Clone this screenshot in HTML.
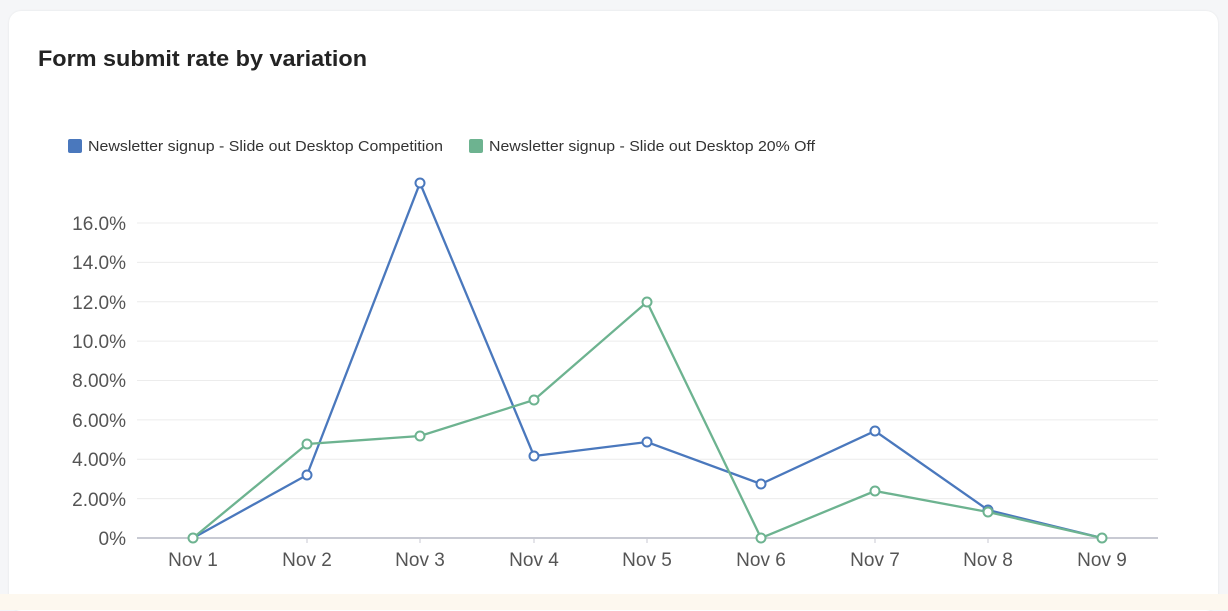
<!DOCTYPE html>
<html><head><style>
html,body{margin:0;padding:0;width:1228px;height:610px;background:#f5f6f8;overflow:hidden;font-family:"Liberation Sans",sans-serif;}
.card{position:absolute;left:9px;top:11px;width:1209px;height:600px;background:#fff;border-radius:12px;box-shadow:0 0 2px rgba(0,0,0,0.08);}
.strip{position:absolute;left:0;top:594px;width:1228px;height:16px;background:#fdf8ef;}
</style></head><body>
<div class="card"></div>
<div class="strip"></div>
<svg width="1228" height="610" style="position:absolute;left:0;top:0">
<text x="38" y="66" font-size="22" font-weight="bold" fill="#232323" textLength="329" lengthAdjust="spacingAndGlyphs">Form submit rate by variation</text>
<rect x="68" y="139" width="14" height="14" rx="2" fill="#4a78bd"/>
<text x="88" y="151" font-size="15" fill="#333" textLength="355" lengthAdjust="spacingAndGlyphs">Newsletter signup - Slide out Desktop Competition</text>
<rect x="469" y="139" width="14" height="14" rx="2" fill="#6db390"/>
<text x="489" y="151" font-size="15" fill="#333" textLength="326" lengthAdjust="spacingAndGlyphs">Newsletter signup - Slide out Desktop 20% Off</text>
<g stroke="#ececec" stroke-width="1">
<line x1="137" x2="1158" y1="223" y2="223"/><line x1="137" x2="1158" y1="262.4" y2="262.4"/>
<line x1="137" x2="1158" y1="301.8" y2="301.8"/><line x1="137" x2="1158" y1="341.1" y2="341.1"/>
<line x1="137" x2="1158" y1="380.5" y2="380.5"/><line x1="137" x2="1158" y1="419.9" y2="419.9"/>
<line x1="137" x2="1158" y1="459.3" y2="459.3"/><line x1="137" x2="1158" y1="498.6" y2="498.6"/>
</g>
<line x1="137" x2="1158" y1="538" y2="538" stroke="#c8cad3" stroke-width="2"/>
<g font-size="19" fill="#555" text-anchor="end">
<text x="126" y="230">16.0%</text><text x="126" y="269">14.0%</text><text x="126" y="309">12.0%</text>
<text x="126" y="348">10.0%</text><text x="126" y="387">8.00%</text><text x="126" y="427">6.00%</text>
<text x="126" y="466">4.00%</text><text x="126" y="506">2.00%</text><text x="126" y="545">0%</text>
</g>
<g font-size="19" fill="#555" text-anchor="middle">
<text x="193" y="566">Nov 1</text><text x="307" y="566">Nov 2</text><text x="420" y="566">Nov 3</text>
<text x="534" y="566">Nov 4</text><text x="647" y="566">Nov 5</text><text x="761" y="566">Nov 6</text>
<text x="875" y="566">Nov 7</text><text x="988" y="566">Nov 8</text><text x="1102" y="566">Nov 9</text>
</g>
<g stroke="#c8cad3" stroke-width="1">
<line x1="307" x2="307" y1="538" y2="543"/><line x1="420" x2="420" y1="538" y2="543"/><line x1="534" x2="534" y1="538" y2="543"/><line x1="647" x2="647" y1="538" y2="543"/><line x1="761" x2="761" y1="538" y2="543"/><line x1="875" x2="875" y1="538" y2="543"/><line x1="988" x2="988" y1="538" y2="543"/>
</g>
<polyline fill="none" stroke="#4a78bd" stroke-width="2.3" points="193,538 307,475 420,183 534,456 647,442 761,484 875,431 988,510 1102,538"/>
<polyline fill="none" stroke="#6db390" stroke-width="2.3" points="193,538 307,444 420,436 534,400 647,302 761,538 875,491 988,512 1102,538"/>
<g fill="#fff" stroke="#4a78bd" stroke-width="2">
<circle cx="307" cy="475" r="4.5"/><circle cx="420" cy="183" r="4.5"/><circle cx="534" cy="456" r="4.5"/><circle cx="647" cy="442" r="4.5"/><circle cx="761" cy="484" r="4.5"/><circle cx="875" cy="431" r="4.5"/><circle cx="988" cy="510" r="4.5"/>
</g>
<g fill="#fff" stroke="#6db390" stroke-width="2">
<circle cx="193" cy="538" r="4.5"/><circle cx="307" cy="444" r="4.5"/><circle cx="420" cy="436" r="4.5"/><circle cx="534" cy="400" r="4.5"/><circle cx="647" cy="302" r="4.5"/><circle cx="761" cy="538" r="4.5"/><circle cx="875" cy="491" r="4.5"/><circle cx="988" cy="512" r="4.5"/><circle cx="1102" cy="538" r="4.5"/>
</g>
</svg>
</body></html>
